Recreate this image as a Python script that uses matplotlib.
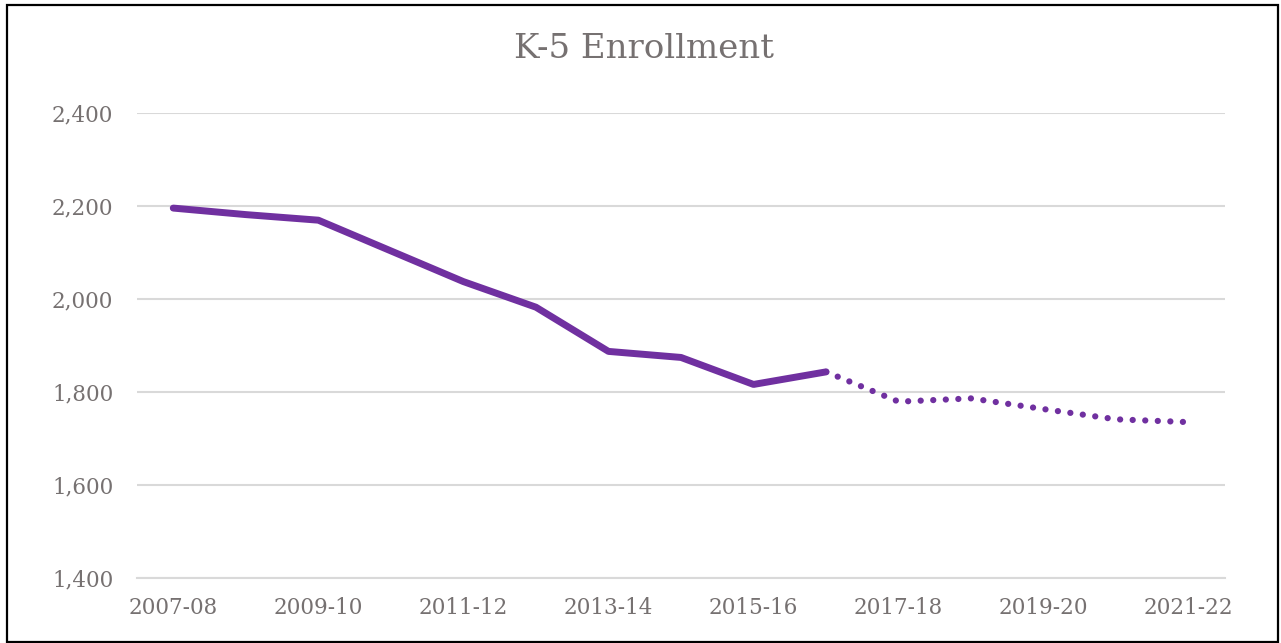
import matplotlib
matplotlib.use("Agg")
import matplotlib.pyplot as plt
from matplotlib.patches import Rectangle
from matplotlib.ticker import FuncFormatter

years = ["2007-08", "2008-09", "2009-10", "2010-11", "2011-12", "2012-13", "2013-14",
         "2014-15", "2015-16", "2016-17", "2017-18", "2018-19", "2019-20", "2020-21", "2021-22"]
actual = [2195, 2181, 2169, 2103, 2037, 1982, 1887, 1874, 1816, 1843]
projected = [1843, 1779, 1786, 1763, 1741, 1735]

W, H = 1281, 643
fig = plt.figure(figsize=(W / 100, H / 100), dpi=100)
txt = "#767171"
purple = "#7030A0"
font = "DejaVu Serif"

ax = fig.add_axes([137 / W, 65 / H, 1088 / W, (578 - 112.7) / H])
x_act = list(range(len(actual)))
x_proj = list(range(len(actual) - 1, len(years)))
ax.plot(x_act, actual, color=purple, lw=5, solid_capstyle="round", solid_joinstyle="round", zorder=3)
ax.plot(x_proj, projected, color=purple, lw=4.5, linestyle=(0, (0.01, 2.0)),
        dash_capstyle="round", zorder=3)

ax.set_xlim(-0.5, len(years) - 0.5)
ax.set_ylim(1400, 2400)
ax.set_yticks(range(1400, 2401, 200))
ax.yaxis.set_major_formatter(FuncFormatter(lambda v, p: f"{int(v):,}"))
ax.set_xticks(range(0, len(years), 2))
ax.set_xticklabels(years[::2])
ax.grid(axis="y", color="#D9D9D9", lw=1.5)
ax.set_axisbelow(True)
for s in ["top", "right", "left"]:
    ax.spines[s].set_visible(False)
ax.spines["bottom"].set_color("#D9D9D9")
ax.spines["bottom"].set_linewidth(1.5)
ax.tick_params(axis="both", length=0, colors=txt, labelsize=15.5)
ax.tick_params(axis="y", pad=17)
ax.tick_params(axis="x", pad=14)
for lab in ax.get_xticklabels() + ax.get_yticklabels():
    lab.set_fontfamily(font)

fig.text(644 / W, 1 - 49 / H, "K-5 Enrollment", ha="center", va="center",
         fontsize=24.5, color=txt, family=font)

fig.patches.append(Rectangle((7 / W, 1.5 / H), (1278 - 7) / W, (638 - 1.5) / H,
                             transform=fig.transFigure, fill=False, edgecolor="black",
                             lw=1.6, zorder=10))

fig.savefig("out.png", dpi=100)
